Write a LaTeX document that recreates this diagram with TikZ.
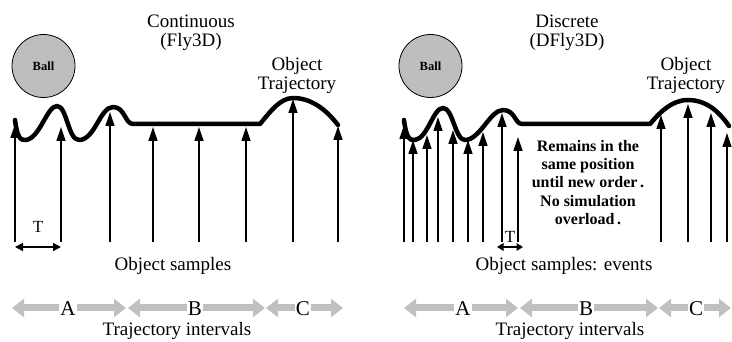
\documentclass[tikz,border=0pt]{standalone}
\usepackage{fontspec}
\setmainfont{Liberation Serif}
\usetikzlibrary{arrows.meta}
\definecolor{ballgray}{RGB}{190,190,190}
\definecolor{bandgray}{RGB}{192,192,192}
\begin{document}
\begin{tikzpicture}[x=1pt,y=-1pt,
  traj/.style={line width=4.5pt, line join=round, line cap=round},
  sample/.style={line width=1.3pt, -{Triangle[length=14pt,width=9pt]}},
  period/.style={line width=1.5pt, {Triangle[length=8pt,width=8pt]}-{Triangle[length=8pt,width=8pt]}},
  shortperiod/.style={line width=1.5pt, {Triangle[length=6.5pt,width=7.5pt]}-{Triangle[length=6.5pt,width=7.5pt]}},
  ball/.style={circle, draw=black, line width=0.8pt, fill=ballgray, minimum size=63pt,
    inner sep=0pt, font=\fontsize{12.5}{14}\selectfont\bfseries},
  title/.style={font=\fontsize{19}{18.5}\selectfont, align=center, inner sep=0pt, anchor=north},
  caption/.style={font=\fontsize{19}{19}\selectfont, inner sep=0pt, anchor=base},
  note/.style={font=\fontsize{16}{18.25}\selectfont\bfseries, align=center, inner sep=0pt, anchor=north},
  tlabel/.style={font=\fontsize{17}{17}\selectfont, inner sep=0pt, anchor=base},
  band/.style={line width=7pt, draw=bandgray,
    {Triangle[length=12pt,width=18pt]}-{Triangle[length=12pt,width=18pt]}},
  bandletter/.style={font=\fontsize{21}{21}\selectfont, fill=white, inner xsep=1pt,
    inner ysep=0pt, anchor=base},
]
\useasboundingbox (0,0) rectangle (732,342);

% ---------------- continuous simulation ----------------
\node[title] (ctitle) at (191,15) {Continuous\\(Fly3D)};
\node[ball] (cball) at (43.5,66) {Ball};
\node[title, font=\fontsize{19}{19}\selectfont] (ctraj) at (297,57) {Object\\Trajectory};

\draw[traj] (15,120) .. controls (17,136) and (20,141) .. (26,140)
  .. controls (40,138) and (47,106) .. (57,106)
  .. controls (67,106) and (68,140) .. (79,140)
  .. controls (95,140) and (100,107) .. (113,107)
  .. controls (125,107) and (125,124) .. (133,124)
  -- (260,124)
  .. controls (270,112) and (280,98) .. (293,98)
  .. controls (310,98) and (325,108) .. (338,125);

\foreach \x/\t [count=\i] in {15/124,61/127,110/112,153/127,199/127,246/127,293/99,338/126} {
  \coordinate (cb\i) at (\x,242);
  \coordinate (ct\i) at (\x,\t);
  \draw[sample] (cb\i) -- (ct\i);
}
\draw[period] (cb1 |- 0,247) coordinate (cp1) -- (cb2 |- 0,247) coordinate (cp2);
\node[tlabel] (cT) at (38,233) {T};

\node[caption] (csamples) at (173,271) {Object samples};

\coordinate (cA0) at (12,308);  \coordinate (cA1) at (126,308);
\coordinate (cB0) at (128,308); \coordinate (cB1) at (265,308);
\coordinate (cC0) at (266,308); \coordinate (cC1) at (343,308);
\draw[band] (cA0) -- (cA1);
\draw[band] (cB0) -- (cB1);
\draw[band] (cC0) -- (cC1);
\node[bandletter] (cA) at (68,316) {A};
\node[bandletter] (cB) at (195,316) {B};
\node[bandletter] (cC) at (303,316) {C};
\node[caption] (cint) at (177,335) {Trajectory intervals};

% ---------------- discrete simulation ----------------
\node[title] (dtitle) at (567,15) {Discrete\\(DFly3D)};
\node[ball] (dball) at (430.5,66) {Ball};
\node[title, font=\fontsize{19}{19}\selectfont] (dtraj) at (686,57) {Object\\Trajectory};

\draw[traj] (404,120) .. controls (406,136) and (409,141) .. (415,140)
  .. controls (428,138) and (433,108) .. (443,108)
  .. controls (453,108) and (455,140) .. (465,140)
  .. controls (480,140) and (490,110) .. (503,110)
  .. controls (515,110) and (515,124) .. (522,124)
  -- (650,124)
  .. controls (660,112) and (672,100) .. (688,100)
  .. controls (705,100) and (718,110) .. (729,126);

\foreach \x/\t [count=\i] in {404/125,413/140,427/135,438/117,453/130,468/140,483/132,
    502/113,518/137,661/115,688/104,711/113,727/133} {
  \coordinate (db\i) at (\x,242);
  \coordinate (dt\i) at (\x,\t);
  \draw[sample] (db\i) -- (dt\i);
}
\coordinate (dp1) at (497,247);
\coordinate (dp2) at (523,247);
\draw[shortperiod] (dp1) -- (dp2);
\node[tlabel] (dT) at (510,243) {T};

\node[note] (dnote) at (588,140)
  {Remains in the\\same position\\until new order\,.\\No simulation\\overload\,.};

\node[caption] (dsamples) at (564,271) {Object samples: events};

\coordinate (dA0) at (404,308); \coordinate (dA1) at (518,308);
\coordinate (dB0) at (520,308); \coordinate (dB1) at (658,308);
\coordinate (dC0) at (659,308); \coordinate (dC1) at (731,308);
\draw[band] (dA0) -- (dA1);
\draw[band] (dB0) -- (dB1);
\draw[band] (dC0) -- (dC1);
\node[bandletter] (dA) at (463,316) {A};
\node[bandletter] (dB) at (586,316) {B};
\node[bandletter] (dC) at (696,316) {C};
\node[caption] (dint) at (570,335) {Trajectory intervals};
\end{tikzpicture}
\end{document}
